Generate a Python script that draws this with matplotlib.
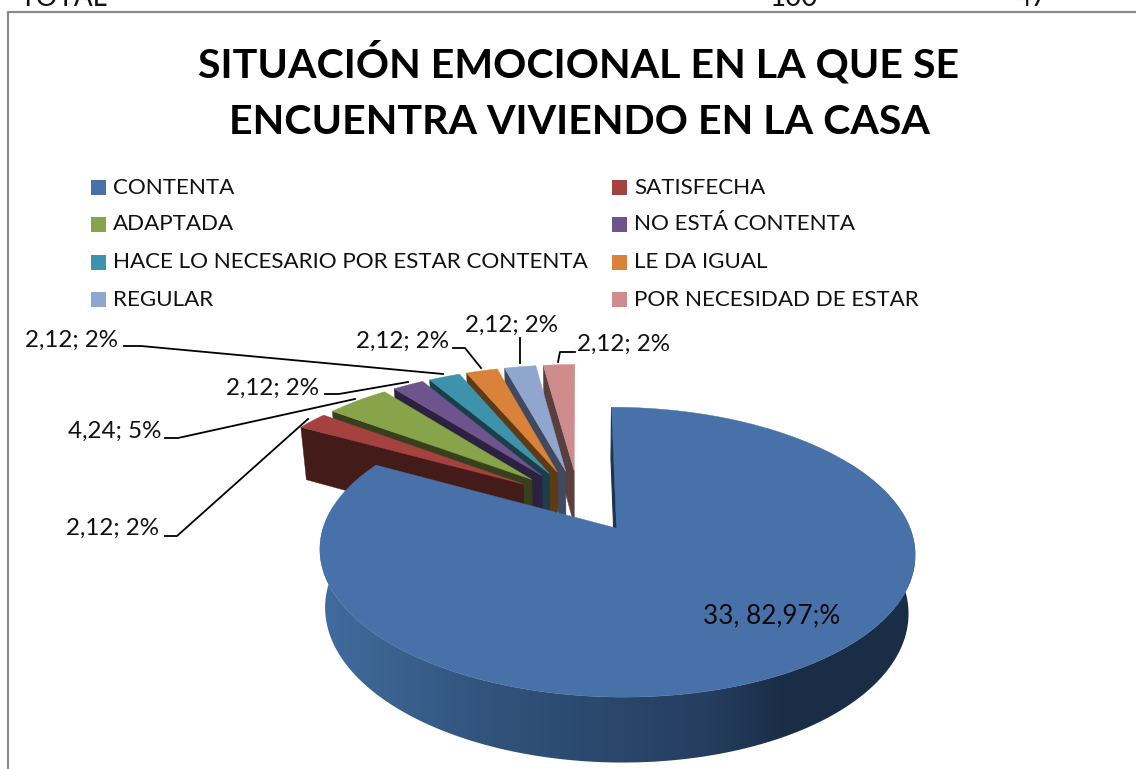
import numpy as np
import matplotlib
matplotlib.use("Agg")
import matplotlib.pyplot as plt
from matplotlib.colors import LinearSegmentedColormap
from matplotlib.patches import Polygon, Rectangle, PathPatch
from matplotlib.path import Path

plt.rcParams['font.family'] = ['Lato', 'DejaVu Sans']

categories = ["CONTENTA", "SATISFECHA", "ADAPTADA", "NO ESTÁ CONTENTA",
              "HACE LO NECESARIO POR ESTAR CONTENTA", "LE DA IGUAL",
              "REGULAR", "POR NECESIDAD DE ESTAR"]
values = [82.97, 2.12, 4.24, 2.12, 2.12, 2.12, 2.12, 2.12]
shown_pct = [None, 2, 5, 2, 2, 2, 2, 2]
main_label = "33, 82,97;%"
title_lines = ["SITUACIÓN EMOCIONAL EN LA QUE SE", "ENCUENTRA VIVIENDO EN LA CASA"]

top_colors = ["#4771A8", "#A5413F", "#87A44B", "#6E548D", "#3D93AC", "#DA813A", "#91A6CE", "#CE8C8C"]
wall_colors = ["#1C3350", "#431B18", "#37401C", "#2C2140", "#1A3F4B", "#5E3A17", "#3F4A5E", "#5A3F3F"]

# projection of the pie plane, in image pixels
cx, cy, ax_u, ax_v, persp = 578.5, 500.6, 284, 132, 0.16
explode = 0.235
depth, shrink = 56, 0.98
main_dx = 3


def project(u, v, low=False):
    w = 1 / (1 - persp * v)
    s = shrink if low else 1
    return cx + ax_u * u * w * s, cy + ax_v * v * w * s + (depth * w if low else 0)


def slice_arc(start, end, low=False, n=200):
    th = np.radians(np.linspace(start, end, n))
    mid = np.radians((start + end) / 2)
    u = np.sin(th) + explode * np.sin(mid)
    v = -np.cos(th) - explode * np.cos(mid)
    return np.column_stack(project(u, v, low))


def apex(start, end, low=False):
    mid = np.radians((start + end) / 2)
    return np.array(project(explode * np.sin(mid), -explode * np.cos(mid), low))


fig = plt.figure(figsize=(11.36, 7.69), dpi=100)
ax = fig.add_axes([0, 0, 1, 1])
ax.set_xlim(0, 1136)
ax.set_ylim(769, 0)
ax.axis("off")

# chart frame and the table row cut off above it
ax.plot([8, 8, 1136], [769, 12, 12], color="#8C8C8C", lw=1.6)
for txt, x in [("TOTAL", 20), ("100", 770), ("47", 1016)]:
    ax.text(x, -2, txt, fontsize=20, va="center", ha="left", color="#111111", clip_on=True)

ax.text(579, 63, title_lines[0], fontsize=29.6, fontweight="bold", ha="center", va="center", color="black")
ax.text(579, 122, title_lines[1], fontsize=29.6, fontweight="bold", ha="center", va="center", color="black")

# legend
leg_rows = [187.5, 224.5, 262.5, 299.5]
for i, name in enumerate(categories):
    row = leg_rows[i // 2]
    xm, xt = (91, 113) if i % 2 == 0 else (612, 634)
    ax.add_patch(Rectangle((xm, row - 7.5), 15, 15, color=top_colors[i], lw=0))
    ax.text(xt, row, name, fontsize=16.1, va="center", ha="left", color="#111111")

# angles, clockwise from 12 o'clock
total = sum(values)
edges = np.concatenate([[0], np.cumsum(values) / total * 360])

# small slices, from the back right round to the front left
for i in range(len(values) - 1, 0, -1):
    a, b = edges[i], edges[i + 1]
    p0, p1 = apex(a, b), apex(a, b, True)
    q0, q1 = slice_arc(a, b, n=2)[0], slice_arc(a, b, True, n=2)[0]
    ax.add_patch(Polygon([p0, q0, q1, p1], color=wall_colors[i], lw=0.3, zorder=2 + 8 - i))
    ax.add_patch(Polygon(np.vstack([p0, slice_arc(a, b)]), color=top_colors[i], lw=0.3, zorder=2 + 8 - i))

# big slice: start wall, rim with gradient, top
a, b = edges[0], edges[1]
shift = np.array([main_dx, 0])
p0, p1 = apex(a, b) + shift, apex(a, b, True) + shift
q0, q1 = slice_arc(a, b, n=2)[0] + shift, slice_arc(a, b, True, n=2)[0] + shift
ax.add_patch(Polygon([p0, q0, q1, p1], color=wall_colors[0], lw=0.8, zorder=11))

top_arc = slice_arc(a, b, n=400) + shift
low_arc = slice_arc(a, b, True, n=400) + shift
arc_deg = np.linspace(a, b, 400)
start_i = np.argmin(np.abs(arc_deg - 60))
end_i = np.argmin(np.abs(arc_deg - 280))
rim_pts = np.vstack([top_arc[start_i:end_i], low_arc[start_i:end_i][::-1]])
rim_path = Path(np.vstack([rim_pts, rim_pts[0]]), closed=True)
patch = PathPatch(rim_path, facecolor="none", edgecolor="none", transform=ax.transData)
ax.add_patch(patch)
rim_cmap = LinearSegmentedColormap.from_list("rim", [
    (0.0, "#426C9F"), (0.3, "#30527A"), (0.65, "#263E60"), (0.78, "#1B2E48"), (1.0, "#1A2D47")])
im = ax.imshow(np.linspace(0, 1, 300).reshape(1, -1), cmap=rim_cmap, aspect="auto",
               extent=[318, 915, 780, 400], zorder=12)
im.set_clip_path(patch)
ax.set_xlim(0, 1136)
ax.set_ylim(769, 0)
ax.add_patch(Polygon(np.vstack([p0, top_arc]), color=top_colors[0], lw=0.3, zorder=13))

# data labels with leader lines
def small_label(i):
    return f"{values[i]:.2f}".replace(".", ",") + f"; {shown_pct[i]}%"


label_xy = {1: (66, 528), 2: (68, 431), 3: (226, 388), 4: (25, 340),
            5: (356, 341), 6: (465, 325), 7: (577, 344)}
leaders = {1: [(165, 536), (177, 536), (308, 419)],
           2: [(165, 438), (178, 438), (355, 399)],
           3: [(325, 394), (339, 394), (408, 382)],
           4: [(124, 346), (141, 346), (443, 374)],
           5: [(453, 348), (465, 348), (481, 368)],
           6: [(520, 338), (520, 363)],
           7: [(575, 352), (560, 352), (558, 362)]}
for i, (x, y) in label_xy.items():
    ax.text(x, y, small_label(i), fontsize=17.4, va="center", ha="left", color="#111111", zorder=20)
    xs, ys = zip(*leaders[i])
    ax.plot(xs, ys, color="black", lw=1.3, zorder=19)

ax.text(703, 616, main_label, fontsize=18.8, va="center", ha="left", color="#0A0A0A", zorder=20)

fig.savefig("out.png", dpi=100)
